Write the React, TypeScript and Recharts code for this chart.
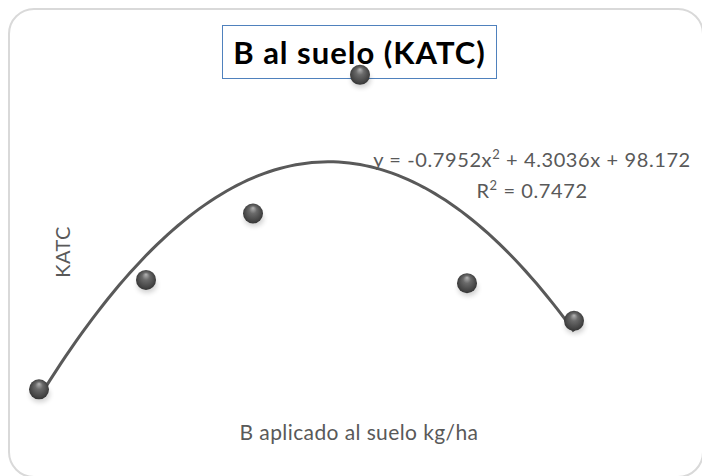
import { ComposedChart, Line, Scatter, XAxis, YAxis } from 'recharts';

// B applied to soil (kg/ha) vs KATC
const doses = [0, 1, 2, 3, 4, 5];
const katc = [98.38, 101.08, 102.72, 106.14, 101.0, 100.07];

// polynomial trendline, order 2: y = a x^2 + b x + c
const trendCoef = { a: -0.7952, b: 4.3036, c: 98.172 };
const rSquared = 0.7472;

const points = doses.map((x, i) => ({ x, y: katc[i] }));

const trend: { x: number; y: number }[] = [];
for (let i = 0; i <= 100; i++) {
  const x = (doses[doses.length - 1] * i) / 100;
  trend.push({ x, y: trendCoef.a * x * x + trendCoef.b * x + trendCoef.c });
}

const FONT = 'Lato, "Open Sans", sans-serif';
const GREY = '#595959';

function Ball(props: any) {
  const { cx, cy, index } = props;
  if (cx == null || cy == null) return null;
  const id = `ball-${index}`;
  const sh = `ballsh-${index}`;
  return (
    <g>
      <defs>
        <radialGradient id={id} cx="50%" cy="50%" r="55%" fx="50%" fy="22%">
          <stop offset="0%" stopColor="#b4b4b4" />
          <stop offset="35%" stopColor="#6a6a6a" />
          <stop offset="80%" stopColor="#444" />
          <stop offset="100%" stopColor="#2e2e2e" />
        </radialGradient>
        <filter id={sh} x="-50%" y="-50%" width="200%" height="200%">
          <feGaussianBlur stdDeviation="2.5" />
        </filter>
      </defs>
      <ellipse cx={cx + 1} cy={cy + 5} rx={10} ry={8} fill="#000" opacity={0.18} filter={`url(#${sh})`} />
      <circle cx={cx} cy={cy} r={10} fill={`url(#${id})`} />
    </g>
  );
}

const sup = { fontSize: 13, verticalAlign: 8, lineHeight: 0 };

export default function App() {
  return (
    <div style={{ position: 'absolute', left: 0, top: 0, width: 702, height: 476, overflow: 'hidden', fontFamily: FONT, background: '#fff' }}>
      {/* chart frame */}
      <div
        style={{
          position: 'absolute',
          left: 8,
          top: 8,
          width: 696,
          height: 470,
          border: '2px solid #d9d9d9',
          borderRadius: 26,
          boxSizing: 'border-box',
        }}
      />
      {/* title box */}
      <div
        style={{
          position: 'absolute',
          left: 222,
          top: 25,
          width: 275,
          height: 54,
          border: '1.5px solid #4f81bd',
          boxSizing: 'border-box',
          display: 'flex',
          alignItems: 'center',
          justifyContent: 'center',
          fontWeight: 700,
          fontSize: 31,
          letterSpacing: 1,
          color: '#000',
          whiteSpace: 'nowrap',
        }}
      >
        B al suelo (KATC)
      </div>
      <div style={{ position: 'absolute', left: 0, top: 0 }}>
        <ComposedChart width={702} height={476} margin={{ top: 40, right: 128, bottom: 51, left: 39 }}>
          <XAxis dataKey="x" type="number" domain={[0, 5]} hide />
          <YAxis type="number" domain={[97.5, 107]} hide allowDataOverflow />
          <Line
            data={trend}
            dataKey="y"
            type="linear"
            stroke={GREY}
            strokeWidth={3}
            dot={false}
            activeDot={false}
            isAnimationActive={false}
          />
          <Scatter data={points} dataKey="y" shape={<Ball />} isAnimationActive={false} />
        </ComposedChart>
      </div>
      {/* trendline equation */}
      <div
        style={{
          position: 'absolute',
          left: 332,
          width: 400,
          top: 144,
          textAlign: 'center',
          fontSize: 20,
          letterSpacing: 0.6,
          color: GREY,
          whiteSpace: 'nowrap',
          lineHeight: '31px',
        }}
      >
        <div>
          y = {trendCoef.a}x<sup style={sup}>2</sup> + {trendCoef.b}x + {trendCoef.c}
        </div>
        <div>
          R<sup style={sup}>2</sup> = {rSquared}
        </div>
      </div>
      {/* axis titles */}
      <div
        style={{
          position: 'absolute',
          left: 159,
          width: 400,
          top: 419,
          textAlign: 'center',
          fontSize: 21,
          letterSpacing: 0.4,
          color: GREY,
          whiteSpace: 'nowrap',
        }}
      >
        B aplicado al suelo kg/ha
      </div>
      <div
        style={{
          position: 'absolute',
          left: 62,
          top: 252,
          transform: 'translate(-50%, -50%) rotate(-90deg)',
          fontSize: 20,
          letterSpacing: 0.4,
          color: GREY,
          whiteSpace: 'nowrap',
        }}
      >
        KATC
      </div>
    </div>
  );
}
